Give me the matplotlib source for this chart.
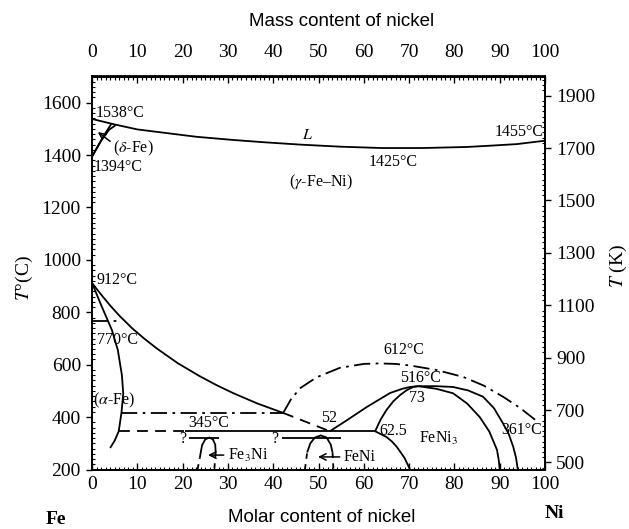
import matplotlib
matplotlib.use('Agg')
import matplotlib.pyplot as plt
from matplotlib.ticker import MultipleLocator

plt.rcParams['font.family'] = ['Liberation Serif', 'DejaVu Serif']
plt.rcParams['mathtext.fontset'] = 'stix'

# ---------------- data ----------------
xticks = [0, 10, 20, 30, 40, 50, 60, 70, 80, 90, 100]
yticks_C = [200, 400, 600, 800, 1000, 1200, 1400, 1600]
yticks_K = [500, 700, 900, 1100, 1300, 1500, 1700, 1900]

liq_x = [0, 5, 10, 16.5, 23, 31, 38, 46, 55, 64, 73, 82.7, 88, 93.8, 100]
liq_T = [1538, 1517, 1498, 1484, 1470, 1458, 1449, 1440, 1432, 1427, 1427, 1431, 1436, 1442, 1455]

delta1_x = [0, 1.5, 3, 4.3]
delta1_T = [1394, 1440, 1485, 1520]
delta2_x = [0, 2, 3.8, 5.2]
delta2_T = [1394, 1455, 1497, 1514]

gamma_x = [0, 2, 4, 6, 8.8, 11.5, 14.3, 19, 23.8, 27.5, 31.1, 36.5, 42.2]
gamma_T = [912, 868, 826, 788, 740, 700, 662, 605, 556, 522, 492, 452, 416]

alpha_x = [0, 2.2, 4.4, 5.7, 6.6, 6.9, 6.5, 5.9, 5.0, 4.0]
alpha_T = [912, 820, 732, 656, 560, 490, 416, 346, 310, 282]

curie_x = [0, 6.5]
curie_T = [768, 768]

dd_h_x = [6.5, 42.2]
dd_h_T = [416, 416]
dome_x = [42.2, 44, 46, 49.6, 54.7, 60, 63.5, 67, 70.2, 76, 82, 86.5, 90.8, 94.5, 97.8]
dome_T = [416, 470, 511, 552, 588, 603, 605, 603, 597, 580, 553, 520, 477, 435, 390]

dash_diag_x = [42.2, 52.5]
dash_diag_T = [416, 346]
dash_h_x = [5.9, 20.5]
dash_h_T = [346, 346]
solid_h_x = [20.5, 62.5]
solid_h_T = [346, 346]

left_b_x = [52.5, 56, 60.7, 65.8, 68.5, 70.2, 72]
left_b_T = [346, 385, 439, 492, 508, 515, 518]
inner_l_x = [62.5, 63.7, 65, 66.5, 68, 69.5, 70.9, 72]
inner_l_T = [346, 390, 427, 460, 484, 503, 515, 518]
low_x = [62.5, 65, 66.2, 67.3, 69, 70.2]
low_T = [346, 324, 307, 286, 244, 200]

inner_r_x = [72, 76, 79.7, 82.8, 85.6, 87.7, 89.4, 89.8, 90]
inner_r_T = [518, 508, 491, 452, 400, 345, 275, 235, 200]
outer_r_x = [72, 76, 79.7, 83, 86.3, 88.7, 90.7, 92, 93, 93.6, 94]
outer_r_T = [518, 518, 515, 502, 478, 435, 377, 335, 286, 245, 200]

fe3ni_x = [23.8, 24.3, 25, 25.9, 26.7, 27.2, 27.3]
fe3ni_T = [245, 293, 315, 322, 315, 295, 265]
fe3ni_dl_x = [23.3, 23.8]; fe3ni_dl_T = [200, 245]
fe3ni_dr_x = [27.3, 27.0]; fe3ni_dr_T = [265, 200]
fe3ni_line_x = [21.5, 28]; fe3ni_line_T = [322, 322]

feni_x = [47.5, 48.2, 49.2, 50.5, 51.8, 52.7, 53.1]
feni_T = [265, 300, 322, 330, 322, 295, 265]
feni_dl_x = [47.0, 47.5]; feni_dl_T = [200, 265]
feni_dr_x = [53.1, 53.3]; feni_dr_T = [265, 200]
feni_line_x = [42, 55]; feni_line_T = [322, 322]

# ---------------- figure ----------------
W, H = 629, 529
fig = plt.figure(figsize=(W / 100, H / 100), dpi=100)
ax = fig.add_axes([92 / W, 1 - 469.5 / H, (545 - 92) / W, (469.5 - 76.5) / H])
ax.set_xlim(0, 100)
ax.set_ylim(200, 1700)

lw = 1.3
k = 'black'
DD = (0, (9, 3, 1.5, 3))
DS = (0, (6, 4))

def line(x, y, ls='-'):
    ax.plot(x, y, color=k, lw=lw, ls=ls, solid_capstyle='butt')

line(liq_x, liq_T)
line(delta1_x, delta1_T)
line(delta2_x, delta2_T)
line(gamma_x, gamma_T)
line(alpha_x, alpha_T)
line(curie_x, curie_T, DD)
line(dd_h_x, dd_h_T, DD)
line(dome_x, dome_T, DD)
line(dash_diag_x, dash_diag_T, DS)
line(dash_h_x, dash_h_T, DS)
line(solid_h_x, solid_h_T)
line(left_b_x, left_b_T)
line(inner_l_x, inner_l_T)
line(low_x, low_T)
line(inner_r_x, inner_r_T)
line(outer_r_x, outer_r_T)
line(fe3ni_x, fe3ni_T)
line(fe3ni_dl_x, fe3ni_dl_T, (0, (3, 3)))
line(fe3ni_dr_x, fe3ni_dr_T, (0, (3, 3)))
line(fe3ni_line_x, fe3ni_line_T)
line(feni_x, feni_T)
line(feni_dl_x, feni_dl_T, (0, (3, 3)))
line(feni_dr_x, feni_dr_T, (0, (3, 3)))
line(feni_line_x, feni_line_T)

# ---------------- annotations ----------------
fs = 11.5
def txt(x, y, s, ha='left', va='center', **kw):
    ax.text(x, y, s, ha=ha, va=va, fontsize=fs, **kw)

txt(0.7, 1562, '1538°C')
txt(0.4, 1356, '1394°C')
ax.annotate(r'($\delta$-Fe)', xy=(1.3, 1488), xytext=(4.6, 1424), fontsize=fs,
            ha='left', va='center',
            arrowprops=dict(arrowstyle='->', color=k, lw=1.1, shrinkA=0, shrinkB=0,
                            relpos=(0.02, 0.75)))
txt(47.5, 1477, r'$L$', ha='center')
txt(99.6, 1488, '1455°C', ha='right')
txt(66.4, 1374, '1425°C', ha='center')
txt(50.5, 1297, r'($\gamma$-Fe–Ni)', ha='center')
txt(1.1, 925, '912°C')
txt(1.1, 694, '770°C')
txt(0.2, 465, r'($\alpha$-Fe)')
txt(25.7, 348, '345°C', ha='center', va='bottom')
txt(20.1, 318, '?', ha='center')
txt(40.4, 318, '?', ha='center')
ax.annotate(r'Fe$_3$Ni', xy=(25.6, 255), xytext=(30.0, 255), fontsize=fs,
            ha='left', va='center',
            arrowprops=dict(arrowstyle='->', color=k, lw=1.1, shrinkA=1, shrinkB=0,
                            relpos=(0, 0.5)))
ax.annotate('FeNi', xy=(49.9, 248), xytext=(55.6, 248), fontsize=fs,
            ha='left', va='center',
            arrowprops=dict(arrowstyle='->', color=k, lw=1.1, shrinkA=1, shrinkB=0,
                            relpos=(0, 0.5)))
txt(52.4, 397, '52', ha='center')
txt(63.4, 346, '62.5')
txt(76.4, 320, r'FeNi$_3$', ha='center')
txt(72.6, 548, '516°C', ha='center')
txt(71.8, 473, '73', ha='center')
txt(68.9, 656, '612°C', ha='center')
txt(99.3, 351, '361°C', ha='right')

# ---------------- axes / ticks ----------------
tfs = 14
for s in ax.spines.values():
    s.set_linewidth(1.3)
ax.set_xticks(xticks)
ax.xaxis.set_minor_locator(MultipleLocator(1))
ax.set_yticks(yticks_C)
ax.yaxis.set_minor_locator(MultipleLocator(20))
ax.tick_params(axis='x', which='major', direction='in', length=5, width=1, labelsize=tfs, pad=5,
               bottom=True, top=False)
ax.tick_params(axis='x', which='minor', direction='in', length=2.5, width=0.8, bottom=True, top=True)
ax.tick_params(axis='y', which='major', direction='out', length=4, width=1, labelsize=tfs, pad=4,
               left=True, right=False)
ax.tick_params(axis='y', which='minor', direction='in', length=2.5, width=0.8, left=True, right=False)

secx = ax.secondary_xaxis('top')
secx.set_xticks(xticks)
secx.xaxis.set_minor_locator(MultipleLocator(1))
secx.tick_params(axis='x', which='major', direction='in', length=5, width=1, labelsize=tfs, pad=11)
secx.tick_params(axis='x', which='minor', direction='in', length=2.5, width=0.8)
secx.spines['top'].set_linewidth(1.3)

ax2 = ax.twinx()
ax2.set_ylim(200 + 273.15, 1700 + 273.15)
ax2.set_yticks(yticks_K)
ax2.yaxis.set_minor_locator(MultipleLocator(20))
ax2.tick_params(axis='y', which='major', direction='out', length=4, width=1, labelsize=tfs, pad=4)
ax2.tick_params(axis='y', which='minor', direction='in', length=2.5, width=0.8)
for s in ax2.spines.values():
    s.set_linewidth(1.3)

# ---------------- titles ----------------
fig.text(24 / W, 1 - 278 / H, r'$T$°(C)', rotation=90, ha='center', va='center', fontsize=14)
fig.text(618 / W, 1 - 266 / H, r'$T$ (K)', rotation=90, ha='center', va='center', fontsize=14)
fig.text(342 / W, 1 - 22 / H, 'Mass content of nickel', ha='center', va='center',
         fontsize=13.5, family='Liberation Sans')
fig.text(322 / W, 1 - 517 / H, 'Molar content of nickel', ha='center', va='center',
         fontsize=13.5, family='Liberation Sans')
fig.text(56 / W, 1 - 519 / H, 'Fe', ha='center', va='center', fontsize=14, fontweight='bold')
fig.text(554 / W, 1 - 513 / H, 'Ni', ha='center', va='center', fontsize=14, fontweight='bold')

fig.savefig('out.png', dpi=100)
